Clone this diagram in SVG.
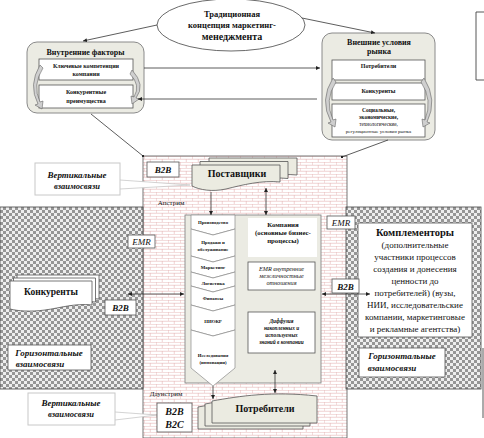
<svg xmlns="http://www.w3.org/2000/svg" width="484" height="438" viewBox="0 0 484 438">
<style>
text{font-family:"Liberation Serif","Times New Roman",serif;fill:#111;text-anchor:middle}
.b{font-weight:bold}
.i{font-style:italic}
.bi{font-weight:bold;font-style:italic}
.ln{stroke:#333;stroke-width:0.8;fill:none}
.box{fill:#fff;stroke:#555;stroke-width:0.8}
.outer{fill:#ebebe3;stroke:#8a8a8a;stroke-width:1}
.doc{fill:#ebebe1;stroke:#555;stroke-width:0.8}
.docw{fill:#fff;stroke:#555;stroke-width:0.8}
.chev{fill:#fff;stroke:#8a8a8a;stroke-width:0.7}
.curl{fill:#cfcfcf;stroke:#666;stroke-width:0.6}
.call{fill:#fff;stroke:#c8c8c8;stroke-width:1}
.callw{fill:#fff;stroke:#c8c8c8;stroke-width:0.8}
</style>
<defs>
<marker id="ar" viewBox="0 0 6 6" refX="6" refY="3" markerWidth="5" markerHeight="5" orient="auto-start-reverse"><path d="M0,0 L6,3 L0,6 z" fill="#222"/></marker>
<marker id="sq" viewBox="0 0 4 4" refX="2" refY="2" markerWidth="3" markerHeight="3" orient="auto"><rect width="4" height="4" fill="#222"/></marker>
<pattern id="brick" width="12" height="6" patternUnits="userSpaceOnUse"><rect width="12" height="6" fill="#fff"/><path d="M0,0.25H12M0,3.25H12M0.25,0V3M6.25,3V6" stroke="#e4b2b2" stroke-width="0.6"/></pattern>
<pattern id="check" width="6" height="6" patternUnits="userSpaceOnUse"><rect width="6" height="6" fill="#eeeeee"/><rect width="3" height="3" fill="#969696"/><rect x="3" y="3" width="3" height="3" fill="#969696"/></pattern>
</defs>

<g id="regions">
<rect x="143" y="156" width="204" height="282" fill="url(#brick)" stroke="#555" stroke-width="0.8"/>
<rect x="0" y="207" width="143" height="182" fill="url(#check)" stroke="#444" stroke-width="0.8"/>
<rect x="346" y="207" width="135" height="182" fill="url(#check)" stroke="#444" stroke-width="0.8"/>
<path d="M484,12 H476 V80 H484" fill="none" stroke="#444" stroke-width="0.9"/>
<path d="M483,348 V418" fill="none" stroke="#444" stroke-width="0.9"/>
</g>

<g id="concept">
<ellipse cx="231" cy="25" rx="74" ry="26" fill="#fff" stroke="#444" stroke-width="0.8"/>
<text x="232" y="17" class="b" font-size="8.5">Традиционная</text>
<text x="232" y="28" class="b" font-size="8.5">концепция маркетинг-</text>
<text x="232" y="40" class="b" font-size="10">менеджмента</text>
</g>

<g id="internal">
<rect x="27" y="42" width="117" height="71" rx="10" class="outer"/>
<text x="85.5" y="55" class="b" font-size="8">Внутренние  факторы</text>
<rect x="39" y="59" width="94" height="21" class="box"/>
<text x="86" y="68" class="b" font-size="6">Ключевые компетенции</text>
<text x="86" y="76" class="b" font-size="6">компании</text>
<rect x="39" y="85" width="94" height="23" class="box"/>
<text x="86" y="94" class="b" font-size="6">Конкурентные</text>
<text x="86" y="103" class="b" font-size="6">преимущества</text>
<path class="curl" d="M40,65 Q28,85 38,104 L35,105 L42,109 L43,101 L40,102 Q32,85 43,68 Z"/>
<path class="curl" d="M132,70 Q146,85 136,98 L139,99 L132,104 L131,96 L134,97 Q141,85 130,74 Z"/>
</g>

<g id="external">
<rect x="322" y="33" width="113" height="107" rx="10" class="outer"/>
<text x="379" y="45" class="b" font-size="8">Внешние условия</text>
<text x="379" y="54" class="b" font-size="8">рынка</text>
<rect x="332" y="60" width="93" height="20" class="box"/>
<text x="378.5" y="68" class="b" font-size="6">Потребители</text>
<rect x="332" y="83" width="93" height="17" class="box"/>
<text x="378.5" y="93" class="b" font-size="6">Конкуренты</text>
<rect x="332" y="104" width="93" height="33" class="box"/>
<text x="378.5" y="112" class="b" font-size="5.5">Социальные,</text>
<text x="378.5" y="119" class="b" font-size="5.5">экономические,</text>
<text x="378.5" y="126" font-size="5.2">технологические,</text>
<text x="378.5" y="133" font-size="5">регуляционные условия рынка</text>
<path class="curl" d="M333,78 Q319,100 331,122 L328,123 L335,127 L336,119 L333,120 Q324,100 336,82 Z"/>
<path class="curl" d="M424,78 Q438,100 427,122 L430,123 L423,127 L422,119 L425,120 Q433,100 421,82 Z"/>
</g>

<g id="complementors">
<rect x="358" y="223" width="114" height="114" class="box"/>
<text x="415" y="236" class="b" font-size="10.5">Комплементоры</text>
<text x="415" y="248" font-size="9">(дополнительные</text>
<text x="415" y="260" font-size="9">участники процессов</text>
<text x="415" y="272" font-size="9">создания и донесения</text>
<text x="415" y="284" font-size="9">ценности до</text>
<text x="415" y="296" font-size="9">потребителей) (вузы,</text>
<text x="415" y="308" font-size="9">НИИ, исследовательские</text>
<text x="415" y="320" font-size="9">компании, маркетинговые</text>
<text x="415" y="332" font-size="9">и рекламные агентства)</text>
</g>

<g id="horiz-right">
<rect x="359" y="348" width="86" height="29" class="box"/>
<text x="402" y="359" class="bi" font-size="9">Горизонтальные</text>
<text x="392" y="371" class="bi" font-size="9">взаимосвязи</text>
</g>

<g id="horiz-left">
<rect x="8" y="345" width="83" height="25" class="box"/>
<text x="49" y="356" class="bi" font-size="9">Горизонтальные</text>
<text x="40" y="367" class="bi" font-size="9">взаимосвязи</text>
</g>

<g id="vert-top">
<path class="callw" d="M120,180 L190,185 L120,189"/>
<rect x="35" y="163" width="85" height="32" class="call"/>
<text x="77" y="178" class="bi" font-size="9">Вертикальные</text>
<text x="77" y="189" class="bi" font-size="8.5">взаимосвязи</text>
</g>

<g id="vert-bottom">
<path class="callw" d="M115,412 L157,415 L115,420"/>
<rect x="28" y="393" width="87" height="32" class="call"/>
<text x="71" y="406" class="bi" font-size="9">Вертикальные</text>
<text x="71" y="417" class="bi" font-size="8.5">взаимосвязи</text>
</g>

<g id="b2b-top">
<rect x="147" y="162" width="32" height="15" class="box"/>
<text x="163" y="173" class="bi" font-size="9">B2B</text>
</g>
<text x="171" y="205" font-size="7">Апстрим</text>
<text x="166" y="396" font-size="7">Даунстрим</text>

<g id="emr-left">
<rect x="128" y="235" width="27" height="13" class="box"/>
<text x="141.5" y="245" class="i" font-size="9">EMR</text>
</g>
<g id="emr-right">
<rect x="327" y="216" width="28" height="13" class="box"/>
<text x="341" y="226" class="i" font-size="9">EMR</text>
</g>
<g id="b2b-right">
<rect x="332" y="279" width="27" height="14" class="box"/>
<text x="345.5" y="289.5" class="bi" font-size="9">B2B</text>
</g>
<g id="b2b-left">
<rect x="105" y="300" width="31" height="15" class="box"/>
<text x="120.5" y="311" class="bi" font-size="9">B2B</text>
</g>
<g id="b2b-b2c">
<rect x="157" y="403" width="35" height="29" class="box"/>
<text x="174.5" y="415" class="bi" font-size="10">B2B</text>
<text x="174.5" y="428" class="bi" font-size="10">B2C</text>
</g>

<g id="suppliers">
<path class="doc" transform="translate(17,-7)" d="M192,165 H280 V182 C262,180 242,185 226,189 C212,192 200,190 192,186 Z"/>
<path class="doc" transform="translate(8,-3.5)" d="M192,165 H280 V182 C262,180 242,185 226,189 C212,192 200,190 192,186 Z"/>
<path class="doc" d="M192,165 H280 V182 C262,180 242,185 226,189 C212,192 200,190 192,186 Z"/>
<text x="237" y="177" class="b" font-size="10">Поставщики</text>
</g>

<g id="competitors">
<path class="docw" transform="translate(7,-6)" d="M10,281 H92 V305 C75,303 60,308 45,310 C30,312 18,311 10,309 Z"/>
<path class="docw" transform="translate(3.5,-3)" d="M10,281 H92 V305 C75,303 60,308 45,310 C30,312 18,311 10,309 Z"/>
<path class="docw" d="M10,281 H92 V305 C75,303 60,308 45,310 C30,312 18,311 10,309 Z"/>
<text x="51" y="295" class="b" font-size="9.5">Конкуренты</text>
</g>

<g id="company">
<rect x="185" y="215" width="136" height="168" fill="#ebebe3" stroke="#888" stroke-width="0.9"/>
<rect x="248" y="218" width="69" height="39" fill="#fff"/>
<text x="283" y="227" class="b" font-size="6.8">Компания</text>
<text x="283" y="235" class="b" font-size="6.8">(основные бизнес-</text>
<text x="283" y="243" class="b" font-size="6.8">процессы)</text>
<rect x="248" y="262" width="67" height="28" class="box"/>
<text x="281.5" y="271" class="i" font-size="6.2">ЕМR внутренние</text>
<text x="281.5" y="278" class="i" font-size="6.2">межличностные</text>
<text x="281.5" y="285" class="i" font-size="6.2">отношения</text>
<rect x="248" y="312" width="67" height="41" class="box"/>
<text x="281.5" y="323" class="bi" font-size="5.3">Диффузия</text>
<text x="281.5" y="330" class="bi" font-size="5.3">накопленных и</text>
<text x="281.5" y="337" class="bi" font-size="5.3">используемых</text>
<text x="281.5" y="344" class="bi" font-size="5.3">знаний в компании</text>
</g>

<g id="chain">
<polygon class="chev" points="191,215 235,215 235,229 213,235 191,229"/>
<polygon class="chev" points="191,229 213,235 235,229 235,256 213,262 191,256"/>
<polygon class="chev" points="191,256 213,262 235,256 235,272 213,278 191,272"/>
<polygon class="chev" points="191,272 213,278 235,272 235,286 213,292 191,286"/>
<polygon class="chev" points="191,286 213,292 235,286 235,305 213,311 191,305"/>
<polygon class="chev" points="191,305 213,311 235,305 235,330 213,336 191,330"/>
<polygon class="chev" points="191,330 213,336 235,330 235,368 213,386 191,368"/>
<text x="213" y="224" class="b" font-size="4.8">Производство</text>
<text x="213" y="244" class="b" font-size="4.8">Продажи и</text>
<text x="213" y="251" class="b" font-size="4.8">обслуживание</text>
<text x="213" y="269" class="b" font-size="4.8">Маркетинг</text>
<text x="213" y="285" class="b" font-size="4.8">Логистика</text>
<text x="213" y="300" class="b" font-size="4.8">Финансы</text>
<text x="213" y="323" class="b" font-size="4.8">НИОКР</text>
<text x="213" y="357" class="b" font-size="4.8">Исследования</text>
<text x="213" y="364" class="b" font-size="4.8">(инновации)</text>
</g>

<g id="consumers">
<path class="doc" transform="translate(-14,6)" d="M212,423 V401 C240,396 272,391 317,396 V423 Z"/>
<path class="doc" transform="translate(-7,3)" d="M212,423 V401 C240,396 272,391 317,396 V423 Z"/>
<path class="doc" d="M212,423 V401 C240,396 272,391 317,396 V423 Z"/>
<text x="265" y="412" class="b" font-size="10">Потребители</text>
</g>

<g id="connectors">
<line class="ln" x1="157" y1="25" x2="83" y2="41" marker-end="url(#ar)"/>
<line class="ln" x1="302" y1="18" x2="375" y2="33" marker-end="url(#ar)"/>
<line class="ln" x1="144" y1="68" x2="320" y2="68" marker-end="url(#ar)"/>
<line class="ln" x1="317" y1="99" x2="138" y2="99" marker-end="url(#ar)"/>
<line class="ln" x1="91" y1="114" x2="143" y2="156" marker-end="url(#sq)"/>
<line class="ln" x1="388" y1="140" x2="342" y2="157" marker-end="url(#sq)"/>
<line class="ln" x1="211" y1="192" x2="211" y2="215" marker-end="url(#ar)"/>
<line class="ln" x1="266" y1="188" x2="266" y2="215" marker-start="url(#ar)" marker-end="url(#ar)"/>
<line class="ln" x1="128" y1="294" x2="184" y2="294" marker-start="url(#ar)" marker-end="url(#ar)"/>
<line class="ln" x1="322" y1="294" x2="370" y2="294" marker-start="url(#ar)" marker-end="url(#ar)"/>
<line class="ln" x1="275" y1="370" x2="275" y2="393" marker-start="url(#ar)" marker-end="url(#ar)"/>
<line class="ln" x1="213" y1="386" x2="213" y2="399" marker-end="url(#ar)"/>
</g>
</svg>
